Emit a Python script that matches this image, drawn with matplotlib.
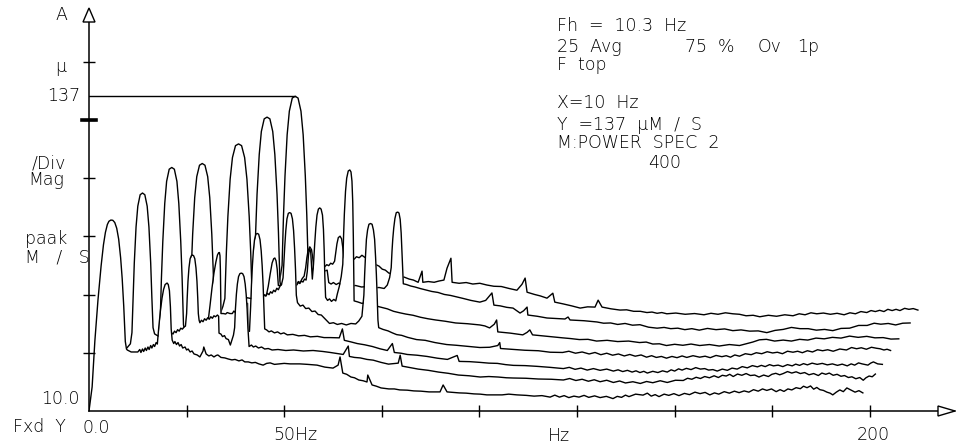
import matplotlib
matplotlib.use("Agg")
import numpy as np
import matplotlib.pyplot as plt
from matplotlib.patches import Polygon
from matplotlib.transforms import blended_transform_factory

W, H = 956, 446

# waterfall offset of each trace (front trace first)
OFF_X = [0, 2.4, 4.7, 7.1, 9.4, 11.8, 14.1]      # Hz
OFF_Y = [0, 5.6, 11.1, 16.7, 22.2, 27.8, 33.4]   # magnitude

# spectra: (frequency Hz, magnitude) relative to each trace's own origin
SPEC_0 = [(0, 10.0), (0.8, 19.7), (1.5, 38.2), (2.3, 54.8), (3.1, 68.5), (3.7, 77.0),
          (4.2, 82.0), (4.7, 85.2), (5.1, 86.5), (5.6, 87.0), (6.1, 86.9), (6.6, 86.0),
          (7.1, 83.7), (7.6, 79.3), (8.1, 71.8), (8.5, 63.4), (8.9, 52.2), (9.3, 38.0),
          (9.6, 35.0), (9.8, 34.6), (10.8, 33.8),
          (11.8, 33.8), (12.5, 33.8), (13.0, 34.8), (13.3, 33.6), (13.7, 35.0), (14.0, 34.0),
          (14.4, 35.4), (14.7, 34.4), (15.1, 35.8), (15.4, 34.8), (15.8, 36.4), (16.1, 35.4),
          (16.5, 36.8), (16.8, 36.0), (17.2, 37.6), (17.5, 37.0), (17.9, 44.3), (18.3, 50.5),
          (18.7, 55.5), (19.1, 59.0), (19.5, 61.0), (20.0, 61.6), (20.3, 61.0), (20.6, 58.5),
          (20.85, 52.0), (21.05, 43.0),
          (21.3, 38.6), (21.7, 37.2), (22.0, 38.0), (22.4, 36.8), (22.8, 37.6), (23.2, 36.2),
          (23.6, 36.8), (24.0, 35.4), (24.6, 35.8), (25.0, 34.6), (25.4, 35.0), (25.9, 33.8),
          (26.4, 34.2), (26.9, 33.0), (27.7, 32.6), (28.4, 31.8), (29.2, 34.2), (29.4, 35.8),
          (30.0, 33.0), (30.7, 32.2), (31.3, 32.6), (32.0, 31.8), (32.6, 32.4), (33.0, 32.6),
          (33.8, 31.6), (34.8, 31.4), (35.6, 31.0), (36.6, 30.6), (37.4, 30.8), (38.4, 30.2),
          (39.2, 30.6), (39.9, 29.8), (40.8, 29.8), (41.7, 29.4), (42.6, 29.6), (43.5, 29.0),
          (44.6, 28.5), (45.5, 29.2), (46.4, 29.4), (47.5, 28.8), (48.7, 29.0), (50.0, 29.2),
          (51.5, 29.0), (54.0, 29.0), (56.0, 28.8), (58.4, 28.5), (60.4, 27.7), (62.5, 27.3),
          (63.8, 28.5), (64.3, 31.8), (65.0, 25.3), (66.0, 24.8), (67.1, 23.7), (68.0, 23.4),
          (69.1, 22.5), (70.2, 22.2), (71.2, 21.7), (71.4, 24.5), (72.5, 20.5), (73.6, 20.0),
          (74.8, 19.3), (76.8, 18.9), (78.2, 18.9), (79.6, 18.5), (81.5, 18.4), (83.2, 18.1),
          (85.0, 18.0), (87.1, 17.7), (89.9, 17.7), (90.7, 20.5), (91.7, 17.7), (93.2, 17.5),
          (94.8, 17.3), (96.6, 17.2), (98.6, 16.9), (100.2, 16.8), (101.9, 16.5), (105.8, 16.5),
          (107.5, 16.8), (109.6, 16.5), (112.0, 16.3), (114.0, 16.0), (116.0, 16.2),
          (118.1, 15.6), (119.3, 16.4), (120.5, 15.6), (121.7, 16.2), (122.9, 15.4), (124.2, 16.0),
          (125.5, 15.6), (126.8, 16.3), (128.0, 15.5), (129.5, 16.1), (130.9, 15.4), (132.5, 15.9),
          (134.2, 15.0), (135.3, 15.9), (136.4, 15.5), (137.4, 16.4), (138.3, 15.8), (140.0, 16.8),
          (141.9, 16.4), (143.0, 17.2), (144.0, 16.0), (145.0, 16.6), (146.0, 15.8), (147.3, 16.8),
          (148.5, 16.3), (149.8, 17.0), (151.1, 16.2), (152.5, 17.1), (153.8, 16.6), (155.2, 17.6),
          (156.5, 17.0), (157.8, 17.5), (159.0, 16.5), (160.2, 17.3), (161.3, 16.8), (162.7, 17.8),
          (164.0, 17.2), (165.3, 18.0), (166.5, 17.4), (167.8, 18.1), (169.0, 17.6), (170.2, 18.6),
          (171.4, 18.0), (172.5, 18.9), (173.6, 18.3), (174.8, 18.9), (176.0, 17.8), (177.0, 18.6),
          (178.0, 17.9), (179.0, 18.9), (180.0, 18.5), (181.1, 19.4), (182.2, 19.0), (183.0, 20.0),
          (183.9, 19.4), (184.8, 20.1), (185.6, 18.8), (186.4, 19.5), (187.2, 18.6), (188.1, 18.3),
          (189.0, 17.6), (189.8, 17.2), (190.5, 16.5), (191.4, 17.6), (192.3, 18.5), (193.2, 17.8),
          (194.1, 19.3), (195.2, 18.4), (196.2, 17.6), (197.2, 18.2), (198.2, 17.3)]

SPEC_1 = [(0, 10.0), (1.0, 18.1), (2.6, 22.1), (4.1, 24.5), (5.6, 26.9), (6.7, 29.0),
          (7.4, 30.0), (8.2, 31.5), (8.6, 36.0), (8.9, 50.2), (9.2, 64.1), (9.65, 78.6),
          (10.1, 87.0), (10.7, 91.6), (11.3, 92.3), (11.9, 91.6), (12.5, 87.0), (12.95, 78.6),
          (13.4, 64.1), (13.7, 50.2), (14.0, 38.0), (14.4, 35.5), (14.9, 35.0), (15.4, 34.6),
          (15.9, 34.2), (16.3, 35.0), (16.7, 34.4), (17.1, 35.4), (17.5, 34.8), (17.9, 35.6),
          (18.3, 35.0), (18.7, 36.0), (19.1, 35.4), (19.5, 36.6), (19.9, 36.0), (20.3, 37.2),
          (20.7, 36.6), (21.1, 37.8), (21.5, 37.4), (22.0, 38.4), (22.3, 38.6), (22.6, 43.7),
          (22.75, 50.0), (22.95, 56.7), (23.2, 62.1), (23.5, 65.8), (23.8, 67.0), (24.1, 67.3),
          (24.4, 67.0), (24.7, 65.8), (25.0, 62.1), (25.25, 56.7), (25.45, 50.0), (25.6, 43.7),
          (25.8, 41.0), (26.0, 40.0), (26.4, 41.0), (26.8, 40.4), (27.2, 41.6),
          (27.6, 41.0), (28.0, 42.0), (28.4, 41.4), (28.8, 42.4), (29.2, 41.8), (29.6, 42.8),
          (30.0, 42.4), (30.5, 43.1), (30.8, 42.6), (30.9, 35.8), (31.4, 35.4), (31.8, 34.4),
          (32.3, 34.8), (32.7, 33.6), (33.3, 33.2), (33.8, 31.0), (34.6, 35.0), (34.9, 38.0),
          (35.1, 45.5), (35.35, 51.5), (35.6, 55.6), (35.9, 58.6), (36.25, 59.8), (36.6, 60.0),
          (36.95, 59.8), (37.3, 58.6), (37.6, 55.6), (37.85, 51.5), (38.1, 45.5), (38.3, 38.0),
          (38.6, 30.4), (39.2, 31.0), (39.7, 30.2), (40.3, 30.6), (41.0, 29.8),
          (41.8, 30.2), (42.6, 29.4), (43.5, 29.6), (44.5, 29.0), (46.0, 29.2), (48.0, 28.8),
          (50.0, 29.0), (52.5, 28.6), (55.0, 28.8), (57.5, 28.4), (59.4, 28.0), (61.0, 27.6),
          (62.7, 27.2), (64.0, 30.6), (64.3, 26.4), (65.6, 26.0), (67.1, 25.8), (68.8, 25.2),
          (70.4, 24.9), (72.4, 24.0), (74.3, 23.3), (75.6, 23.5), (76.8, 23.7), (77.3, 26.9),
          (77.8, 22.5), (79.8, 21.9), (81.9, 21.3), (84.5, 20.8), (87.1, 20.1), (89.6, 19.6),
          (92.2, 18.9), (95.0, 18.6), (97.8, 18.1), (100.0, 18.3), (102.4, 18.1), (104.5, 17.8),
          (106.3, 17.7), (109.5, 17.6), (112.7, 17.3), (116.0, 17.2),
          (119.1, 16.9), (120.7, 17.5), (122.3, 16.7), (123.9, 17.2), (125.5, 16.4), (127.0, 17.0),
          (128.5, 16.2), (130.2, 16.8), (131.9, 15.9), (133.5, 16.5), (135.0, 15.7), (136.9, 16.2),
          (138.8, 15.5), (140.4, 16.3), (142.0, 15.8), (143.9, 16.6), (145.7, 15.9), (147.8, 16.8),
          (149.8, 16.7), (150.9, 17.6), (152.0, 17.2), (153.1, 18.0), (154.2, 17.5), (155.3, 18.3),
          (156.5, 17.8), (157.7, 18.6), (158.8, 17.9), (159.8, 18.8), (160.8, 18.5), (161.7, 19.2),
          (162.6, 18.3), (163.7, 19.3), (164.8, 18.8), (165.9, 19.5), (167.0, 18.7), (168.1, 18.9),
          (169.2, 18.1), (170.4, 18.9), (171.6, 18.3), (172.5, 19.2), (173.5, 19.6), (174.5, 19.0),
          (175.4, 19.5), (176.5, 20.3), (177.6, 19.7), (178.7, 20.2), (179.8, 19.5), (180.9, 19.9),
          (182.0, 19.0), (183.2, 19.5), (184.4, 18.7), (185.3, 19.7), (186.3, 19.2), (187.2, 19.7),
          (188.2, 18.8), (189.2, 19.2), (190.2, 18.4), (191.1, 18.7), (192.1, 17.9), (193.0, 18.2),
          (194.0, 17.4), (195.0, 17.9), (195.9, 16.8), (196.6, 17.8), (197.4, 18.5), (198.2, 18.2),
          (199.0, 19.3)]

SPEC_2 = [(0, 10.0), (5.1, 18.0), (10.2, 23.0), (12.3, 25.5), (13.2, 28.0), (13.5, 33.6),
          (13.85, 52.5), (14.2, 67.2), (14.7, 82.6), (15.18, 91.5), (15.84, 96.4), (16.5, 97.1),
          (17.16, 96.4), (17.82, 91.5), (18.3, 82.6), (18.8, 67.2), (19.15, 52.5), (19.5, 33.6),
          (20.0, 30.5), (20.4, 30.2), (20.9, 30.8), (21.4, 30.2),
          (21.9, 31.4), (22.4, 30.8), (22.9, 32.0), (23.4, 31.6), (23.9, 32.8), (24.4, 32.4),
          (24.9, 33.8), (25.4, 33.4), (25.8, 35.0), (26.3, 41.5), (26.8, 48.5), (27.3, 54.5),
          (27.8, 59.0), (28.2, 61.8), (28.5, 62.7), (28.7, 62.8), (28.85, 61.5), (28.95, 56.0),
          (29.05, 45.0), (29.1, 38.2),
          (29.7, 38.2), (30.3, 38.0), (30.7, 38.6), (31.4, 38.2), (32.0, 38.2), (32.4, 39.2),
          (32.8, 38.6), (33.2, 39.8), (33.6, 39.2), (34.0, 40.4), (34.4, 39.8), (34.8, 41.0),
          (35.2, 40.4), (35.6, 41.8), (35.9, 42.3), (36.0, 31.4), (36.4, 31.0), (36.7, 41.0),
          (36.9, 49.5), (37.15, 57.5), (37.4, 63.5), (37.7, 68.0), (38.05, 70.2), (38.4, 70.5),
          (38.75, 70.2), (39.1, 68.0), (39.4, 63.5), (39.65, 57.5), (39.9, 49.5), (40.1, 41.0),
          (40.3, 32.0), (40.8, 31.6), (41.4, 30.8), (42.0, 31.2), (42.8, 30.4),
          (43.6, 30.8), (44.4, 30.0), (45.2, 30.4), (46.1, 29.6), (47.5, 29.8), (49.0, 29.2),
          (50.5, 29.4), (52.0, 28.8), (53.8, 29.0), (55.5, 28.5), (57.1, 28.5), (59.4, 28.4),
          (60.2, 32.0), (60.7, 27.4), (62.3, 26.8), (64.0, 26.1), (65.9, 25.6), (67.9, 24.9),
          (69.8, 24.0), (71.7, 23.3), (73.0, 26.1), (73.5, 22.5), (75.2, 22.2), (76.8, 21.7),
          (79.3, 21.4), (81.9, 20.9), (84.5, 20.2), (87.1, 19.7), (89.6, 21.3), (90.1, 18.9),
          (92.8, 18.8), (95.5, 18.5), (97.7, 18.2), (99.9, 18.1), (102.0, 17.6), (104.0, 17.3),
          (107.0, 17.2), (110.1, 16.9), (113.4, 16.5),
          (116.8, 16.0), (118.3, 16.5), (119.8, 15.7), (121.3, 16.2), (122.9, 15.4), (124.5, 16.0),
          (126.2, 15.3), (127.9, 15.8), (129.6, 15.0), (130.8, 15.5), (132.0, 14.8), (133.2, 15.3),
          (134.4, 14.6), (135.4, 15.1), (136.4, 14.4), (137.4, 14.9), (138.3, 14.2), (139.7, 14.9),
          (141.0, 14.4), (142.2, 15.1), (143.4, 14.6), (144.4, 15.5), (145.3, 15.0), (146.3, 15.9),
          (147.2, 15.4), (148.3, 16.1), (149.5, 15.6), (150.7, 16.4), (151.9, 15.8), (153.0, 16.0),
          (154.0, 15.4), (155.1, 15.6), (156.2, 15.0), (157.5, 15.8), (158.8, 15.3), (160.0, 16.2),
          (161.3, 15.8), (162.6, 16.8), (163.9, 16.3), (165.2, 17.2), (166.5, 16.7), (167.5, 17.3),
          (168.5, 16.8), (169.6, 17.6), (170.6, 17.1), (171.8, 17.4), (173.0, 16.8), (174.2, 17.6),
          (175.4, 17.1), (176.3, 17.8), (177.3, 17.3), (178.3, 18.0), (179.3, 17.5), (180.5, 18.2),
          (181.8, 17.7), (183.1, 18.1), (184.4, 17.5), (185.7, 17.9), (187.0, 17.3), (188.2, 17.8),
          (189.5, 17.1), (190.5, 17.9), (191.4, 17.4), (192.4, 18.3), (193.3, 17.9), (194.8, 17.4),
          (195.5, 18.2), (196.2, 18.7), (197.3, 17.9), (198.5, 17.7)]

SPEC_3 = [(0, 10.0), (5.1, 14.0), (10.0, 17.0), (14.1, 20.0), (17.2, 22.0), (17.7, 24.0),
          (18.4, 27.0), (18.75, 32.5), (19.1, 50.6), (19.45, 64.6), (19.97, 79.3), (20.5, 87.8),
          (21.2, 92.4), (21.9, 93.1), (22.6, 92.4), (23.3, 87.8), (23.83, 79.3), (24.35, 64.6),
          (24.7, 50.6), (25.05, 32.5), (25.5, 30.5), (25.9, 30.0),
          (26.4, 30.2), (27.0, 31.0), (27.7, 30.6), (28.4, 31.6), (29.0, 31.2), (29.6, 32.4),
          (30.2, 32.0), (30.8, 33.6), (31.4, 33.2), (32.0, 34.8), (32.6, 35.4), (33.3, 39.0),
          (34.0, 38.8), (34.6, 38.6), (35.3, 39.2), (35.9, 39.0), (36.6, 38.8), (37.4, 39.0),
          (37.8, 40.2), (38.2, 39.6), (38.6, 40.8), (39.0, 40.2), (39.4, 41.4), (39.8, 40.8),
          (40.2, 42.0), (40.6, 41.4), (41.0, 42.8), (41.4, 42.2), (41.8, 43.6), (42.2, 44.3),
          (42.6, 47.0), (42.8, 53.0), (43.05, 60.0), (43.3, 66.0), (43.6, 70.8), (43.95, 73.0),
          (44.3, 73.3), (44.65, 73.0), (45.0, 70.8), (45.3, 66.0), (45.55, 59.0), (45.8, 50.0),
          (46.0, 40.0), (46.3, 37.0), (47.0, 35.6),
          (47.7, 36.0), (48.4, 34.6), (49.2, 34.8), (50.0, 33.4), (50.8, 33.6), (51.6, 32.2),
          (52.4, 32.0), (53.4, 30.4), (54.5, 28.6), (55.5, 28.9), (56.5, 28.2), (57.6, 28.6),
          (58.8, 28.0), (60.0, 28.6), (61.2, 28.4), (62.0, 29.6), (62.8, 31.5), (63.3, 40.0),
          (63.5, 48.4), (63.7, 55.3), (63.95, 62.5), (64.25, 66.3), (64.6, 68.6), (65.0, 68.9),
          (65.4, 68.6), (65.75, 66.3), (66.05, 62.5), (66.3, 55.3), (66.5, 48.4), (66.7, 40.0),
          (66.9, 30.0), (67.1, 26.9), (68.2, 26.2), (69.5, 25.6), (70.6, 24.8), (71.7, 24.1),
          (73.0, 23.8), (74.5, 23.0), (76.8, 22.1), (79.0, 21.8), (81.5, 20.9), (84.5, 20.1),
          (87.0, 19.8), (89.6, 19.4), (93.0, 18.9), (95.5, 19.0), (97.6, 19.7), (98.1, 20.9),
          (98.3, 18.5), (100.0, 18.3), (101.4, 18.1), (104.5, 17.8), (108.0, 17.6), (111.0, 17.0),
          (114.2, 16.9), (115.8, 17.4), (117.5, 16.6), (119.2, 17.1), (121.0, 16.3), (122.5, 16.9),
          (124.0, 16.0), (125.5, 16.6), (127.0, 15.8), (128.5, 16.3), (130.0, 15.5), (131.4, 16.1),
          (132.8, 15.4), (134.3, 15.9), (135.7, 15.0), (137.0, 15.6), (138.2, 14.9), (139.5, 15.3),
          (140.8, 14.6), (142.2, 15.3), (143.5, 14.8), (144.8, 15.5), (146.0, 14.9), (147.6, 15.6),
          (149.3, 15.0), (150.7, 15.4), (152.0, 14.8), (153.5, 15.7), (155.0, 15.2), (156.1, 15.6),
          (157.2, 15.0), (158.3, 15.9), (159.5, 15.4), (161.0, 16.4), (162.5, 16.0), (163.8, 16.8),
          (165.2, 16.4), (166.6, 17.2), (168.0, 16.7), (169.2, 17.0), (170.5, 16.4), (171.8, 17.4),
          (173.2, 17.0), (174.4, 17.4), (175.6, 16.8), (176.9, 17.6), (178.2, 17.1), (179.5, 18.0),
          (180.8, 17.6), (182.1, 18.0), (183.5, 17.4), (185.2, 18.3), (186.9, 17.9), (188.2, 18.9),
          (189.5, 18.4), (190.7, 18.8), (192.0, 18.2), (193.3, 19.0), (194.6, 18.6), (195.5, 18.4),
          (196.5, 17.9), (197.3, 18.2), (198.2, 17.7)]

SPEC_4 = [(0, 10.0), (7.7, 12.0), (15.4, 16.0), (20.5, 20.0), (23.0, 24.0), (24.2, 27.0),
          (24.9, 30.0), (25.4, 33.2), (25.78, 51.7), (26.17, 66.2), (26.75, 81.3), (27.34, 90.0),
          (28.12, 94.8), (28.9, 95.5), (29.68, 94.8), (30.46, 90.0), (31.05, 81.3), (31.63, 66.2),
          (32.02, 51.7), (32.4, 33.2), (33.0, 33.0),
          (33.6, 32.6), (34.1, 33.4), (34.6, 33.0), (35.1, 34.0), (35.6, 33.6),
          (36.1, 35.0), (36.5, 38.0), (37.0, 43.0), (37.5, 47.5), (37.9, 49.2), (38.2, 49.5),
          (38.5, 48.4), (38.8, 45.0), (39.1, 38.4), (39.6, 38.4), (40.3, 38.8), (41.0, 38.2),
          (41.7, 38.6), (42.3, 39.0), (43.0, 38.4), (43.8, 38.6), (44.2, 39.6), (44.6, 39.2),
          (45.0, 40.2), (45.4, 39.8), (45.8, 41.0), (46.2, 40.6), (46.5, 44.0), (46.8, 50.5),
          (47.1, 53.9), (47.4, 51.5), (47.6, 46.0), (47.8, 41.0), (48.1, 47.0), (48.4, 55.0),
          (48.7, 62.0), (49.0, 66.8), (49.35, 69.2), (49.7, 69.7), (50.05, 69.2), (50.4, 66.8),
          (50.65, 61.0), (50.85, 52.0), (51.0, 42.0),
          (51.2, 33.6), (51.7, 32.4), (52.2, 33.0), (52.7, 32.0), (53.3, 32.8), (53.8, 32.2),
          (54.2, 35.0), (54.7, 38.0), (55.2, 42.0), (55.6, 47.0), (55.8, 58.4), (56.0, 67.2),
          (56.3, 76.4), (56.6, 81.7), (57.0, 84.6), (57.4, 85.0), (57.7, 84.2), (57.95, 80.5),
          (58.15, 72.0), (58.3, 58.0), (58.4, 45.0), (58.5, 32.2),
          (59.4, 31.8), (60.5, 31.2), (61.6, 31.6), (62.8, 30.6), (64.0, 30.2), (65.5, 29.6),
          (67.0, 29.0), (68.6, 28.0), (70.2, 27.4), (71.7, 26.9), (73.6, 26.4), (75.5, 25.6),
          (77.4, 25.0), (79.4, 24.5), (81.8, 24.0), (84.5, 23.3), (87.5, 23.0), (90.7, 22.5),
          (92.0, 22.1), (93.2, 21.3), (94.4, 22.8), (95.0, 24.5), (95.3, 19.7), (98.5, 19.2),
          (101.7, 18.5), (102.8, 19.5), (103.5, 20.5), (104.2, 18.5), (108.0, 17.9),
          (111.9, 17.3), (114.0, 17.0), (116.2, 16.6), (118.4, 16.7), (120.6, 16.0), (123.3, 16.3),
          (126.0, 15.8), (128.8, 16.0), (131.6, 15.4), (133.3, 15.6), (135.0, 14.8), (136.7, 14.9),
          (138.5, 14.2), (140.6, 14.7), (142.7, 14.3), (144.8, 14.8), (147.0, 14.2), (149.5, 14.6),
          (152.0, 14.0), (154.6, 14.6), (157.2, 14.2), (158.9, 14.9), (160.6, 15.6), (162.3, 16.5),
          (164.1, 16.7), (166.2, 16.0), (168.4, 16.4), (170.5, 16.0), (172.6, 16.7), (174.7, 16.4),
          (176.8, 17.2), (178.9, 16.9), (181.0, 17.5), (183.2, 17.2), (185.4, 18.0), (187.6, 17.5),
          (189.8, 17.9), (191.9, 17.3), (194.0, 17.4), (196.0, 16.8), (198.0, 16.9)]

SPEC_5 = [(0, 10.0), (5.4, 10.0), (13.1, 10.0), (20.5, 12.0), (25.6, 16.0), (28.7, 24.0),
          (29.6, 30.0), (30.1, 31.5), (30.51, 34.6), (30.88, 54.3), (31.24, 69.6), (31.8, 85.6),
          (32.34, 94.9), (33.07, 100.0), (33.8, 100.7), (34.53, 100.0), (35.26, 94.9), (35.8, 85.6),
          (36.36, 69.6), (36.72, 54.3), (37.09, 34.6), (37.5, 30.5), (37.8, 30.0),
          (38.3, 30.4), (38.8, 31.4), (39.3, 31.0), (39.8, 32.2), (40.3, 31.8),
          (40.8, 33.2), (41.3, 32.8), (41.8, 34.4), (42.3, 34.0), (42.8, 35.6), (43.3, 36.6),
          (43.7, 40.0), (44.0, 44.0), (44.3, 46.8), (44.8, 48.3), (45.2, 47.2), (45.5, 44.0),
          (45.75, 40.0), (46.0, 38.6),
          (46.3, 38.8), (47.0, 38.4), (47.8, 39.0), (48.5, 38.6), (49.2, 39.0), (49.6, 34.0),
          (50.2, 33.4), (50.8, 34.0), (51.5, 33.2), (52.2, 33.8), (53.0, 33.0), (53.8, 33.4),
          (55.1, 32.6), (56.5, 32.8), (58.0, 32.2), (59.5, 32.4), (61.0, 31.8), (62.5, 32.0),
          (63.8, 31.6), (64.6, 33.0), (65.2, 36.0), (65.6, 40.0), (65.8, 46.5), (66.0, 51.5),
          (66.25, 56.0), (66.55, 59.8), (66.9, 62.2), (67.3, 62.4), (67.6, 62.0), (67.9, 59.5),
          (68.15, 54.0), (68.35, 46.3), (68.55, 38.0), (68.7, 33.5), (69.5, 33.2), (70.6, 32.6),
          (71.7, 32.2), (73.0, 31.6), (74.5, 31.0), (76.0, 30.4), (77.6, 30.0), (79.2, 29.2),
          (80.8, 28.8), (82.4, 28.2), (84.0, 27.6), (86.0, 26.8), (88.3, 26.1), (89.8, 26.8),
          (91.4, 29.8), (91.9, 24.9), (93.5, 24.6), (95.2, 24.0), (96.8, 23.7), (98.6, 21.7),
          (99.5, 22.6), (100.4, 24.1), (100.6, 20.9), (103.0, 20.4), (105.5, 19.7), (107.8, 19.5),
          (110.1, 19.3), (110.9, 20.1), (111.4, 18.9), (115.0, 18.6),
          (118.3, 18.1), (120.0, 17.6), (121.8, 17.7), (123.6, 17.1), (125.5, 17.5), (127.4, 16.8),
          (129.3, 17.0), (131.5, 16.0), (133.7, 15.6), (135.5, 15.9), (137.2, 15.4), (139.0, 15.6),
          (140.8, 15.0), (142.6, 15.4), (144.5, 14.8), (146.6, 15.5), (148.8, 15.0), (151.0, 15.3),
          (153.1, 14.6), (155.2, 14.9), (157.4, 14.4), (159.6, 14.5), (161.8, 13.8), (163.9, 14.7),
          (166.0, 15.1), (168.1, 15.9), (170.3, 15.4), (172.4, 15.4), (174.5, 14.8), (176.6, 15.1),
          (178.7, 14.6), (180.8, 15.5), (183.0, 15.6), (185.3, 16.7), (187.5, 16.7), (189.3, 17.6),
          (191.0, 17.2), (192.9, 17.5), (194.8, 16.9), (196.6, 17.6), (198.5, 17.7)]

SPEC_6 = [(0, 4.0), (3.1, 4.0), (10.8, 6.0), (17.9, 10.0), (24.3, 14.0), (30.7, 20.0),
          (33.5, 24.0), (34.6, 28.0), (35.35, 35.3), (35.72, 55.6), (36.1, 71.4), (36.65, 88.0),
          (37.21, 97.5), (37.96, 102.8), (38.7, 103.5), (39.44, 102.8), (40.19, 97.5), (40.75, 88.0),
          (41.3, 71.4), (41.68, 55.6), (42.05, 35.3), (42.5, 34.0), (42.8, 33.4),
          (43.3, 33.0), (43.8, 34.0), (44.3, 33.6), (44.8, 34.6),
          (45.3, 34.2), (45.8, 35.2), (46.3, 34.8), (46.8, 35.6), (47.3, 35.2), (47.8, 36.2),
          (48.3, 35.8), (48.8, 37.0), (49.1, 40.5), (49.4, 44.0), (49.75, 46.5), (50.2, 47.1),
          (50.6, 46.0), (50.9, 42.5), (51.2, 38.5), (51.5, 37.6), (51.9, 38.0), (52.5, 37.6),
          (53.2, 38.2), (53.8, 37.8),
          (54.4, 38.8), (55.1, 38.4), (55.8, 39.4), (56.5, 38.6), (57.2, 38.0), (57.9, 37.0),
          (58.6, 36.6), (59.4, 35.6), (60.2, 35.0), (61.0, 33.8), (61.8, 33.4), (62.7, 32.2),
          (63.6, 32.0), (64.6, 31.0), (65.6, 30.6), (66.6, 30.6), (67.9, 29.8), (69.0, 29.4),
          (70.2, 28.5), (71.2, 33.0), (71.4, 28.5), (72.8, 28.8), (74.3, 28.5), (75.5, 29.0),
          (76.8, 29.4), (77.6, 34.2), (78.6, 38.2), (78.9, 28.5), (80.7, 28.1), (82.5, 28.4),
          (84.2, 27.8), (86.0, 28.1), (87.8, 27.4), (89.6, 26.9), (91.5, 26.8), (93.5, 26.0),
          (95.5, 25.3), (96.8, 27.7), (97.6, 30.2), (98.1, 24.5), (100.0, 23.6), (101.5, 23.0),
          (103.2, 22.1), (104.7, 24.1), (105.2, 20.5), (107.3, 19.8), (109.5, 19.0), (111.7, 18.1),
          (113.6, 18.6), (115.5, 18.5), (116.3, 21.3), (117.3, 18.5),
          (119.6, 17.8), (121.9, 17.3), (123.6, 17.4), (125.4, 16.8), (127.1, 16.8), (128.8, 16.3),
          (130.1, 16.5), (131.4, 16.0), (132.6, 16.3), (133.9, 15.8), (136.2, 16.1), (138.6, 15.6),
          (141.0, 15.9), (143.4, 15.4), (145.2, 16.0), (147.0, 15.6), (148.9, 16.2), (150.8, 15.8),
          (152.5, 15.6), (154.2, 15.0), (156.0, 15.2), (157.7, 14.6), (159.9, 15.2), (162.0, 14.8),
          (164.1, 15.4), (166.2, 15.0), (167.8, 15.8), (169.3, 15.4), (170.8, 16.2), (172.3, 15.8),
          (174.0, 16.1), (175.8, 15.6), (177.5, 16.0), (179.3, 15.4), (180.8, 16.2), (182.2, 15.8),
          (183.6, 16.7), (185.1, 16.3), (186.2, 17.1), (187.3, 16.7), (188.4, 17.2), (189.5, 16.7),
          (190.5, 17.6), (191.6, 17.1), (192.6, 17.6), (193.6, 17.1), (194.8, 18.0), (195.9, 17.6),
          (197.0, 17.9), (198.2, 17.3)]

SPECTRA = [SPEC_0, SPEC_1, SPEC_2, SPEC_3, SPEC_4, SPEC_5, SPEC_6]

X_TICKS = [25, 50, 75, 100, 125, 150, 175, 200]
Y_TICKS = [33.5, 56.9, 80.4, 103.9, 127.3, 150.8]
BOLD_TICK = 127.3
MARK_X, MARK_Y = 52.8, 137
X_MAX, Y_MIN, Y_MAX = 221.8, 10.0, 171.7

FONT = dict(family="DejaVu Sans", fontsize=12.5, color="black", fontweight="light")


def label(x, y, s, ha="left", **kw):
    # place text by pixel position in the figure
    fig.text(x / W, 1 - y / H, s, ha=ha, va="center", **FONT, **kw)


fig = plt.figure(figsize=(W / 100, H / 100), dpi=100)
ax = fig.add_axes([89 / W, 35 / H, 866 / W, 401 / H])
ax.set_xlim(0, X_MAX)
ax.set_ylim(Y_MIN, Y_MAX)

# back traces first, every trace hides what lies under it
for k in range(len(SPECTRA) - 1, -1, -1):
    f, a = np.array(SPECTRA[k]).T
    x = f + OFF_X[k]
    y = a + OFF_Y[k]
    z = 10 + 2 * (len(SPECTRA) - k)
    ax.fill_between(x, y, Y_MIN, color="white", lw=0, zorder=z)
    ax.plot(x, y, color="black", lw=1.0, zorder=z + 1)

# marker line
ax.plot([0, MARK_X], [MARK_Y, MARK_Y], color="black", lw=1.0, zorder=40)

for side in ["top", "right"]:
    ax.spines[side].set_visible(False)
for side in ["left", "bottom"]:
    ax.spines[side].set_linewidth(1.1)
    ax.spines[side].set_zorder(45)
ax.xaxis.set_zorder(45)
ax.yaxis.set_zorder(45)
ax.set_xticks(X_TICKS)
ax.set_yticks(Y_TICKS)
ax.tick_params(direction="inout", length=8.5, width=1.0, labelbottom=False, labelleft=False)

# heavier tick at the reference level
bt = blended_transform_factory(ax.transAxes, ax.transData)
ax.plot([-7 / 866, 7 / 866], [BOLD_TICK, BOLD_TICK], transform=bt, color="black",
        lw=2.6, clip_on=False, zorder=46)

# open arrow heads on both axes
ax.add_patch(Polygon([(-6 / 866, 389 / 401), (6 / 866, 389 / 401), (0, 403 / 401)],
                     closed=True, fc="white", ec="black", lw=1.0,
                     transform=ax.transAxes, clip_on=False, zorder=47))
ax.add_patch(Polygon([(849 / 866, 5 / 401), (849 / 866, -5 / 401), (866 / 866, 0)],
                     closed=True, fc="white", ec="black", lw=1.0,
                     transform=ax.transAxes, clip_on=False, zorder=47))

# axis annotations
label(55, 15, "A")
label(55, 67, "\u03bc")
label(47, 96, "137")
label(32, 163, "/Div")
label(28, 180, "Mag")
label(25, 239, "paak")
label(25, 258, "M   /   S")
label(41, 399, "10.0")
label(13, 427, "Fxd  Y")
label(83, 428, "0.0")
label(273, 435, "50Hz")
label(548, 436, "Hz")
label(857, 435, "200")

# measurement block
label(557, 26, "Fh  =  10.3  Hz")
label(557, 47, "25  Avg")
label(685, 47, "75  %")
label(758, 47, "Ov")
label(797, 47, "1p")
label(557, 65, "F  top")
label(557, 103, "X=10  Hz")
label(557, 125, "Y  =137  \u00b5M  /  S")
label(557, 143, "M:POWER  SPEC  2")
label(648, 163, "400")

fig.savefig("out.png", dpi=100)
